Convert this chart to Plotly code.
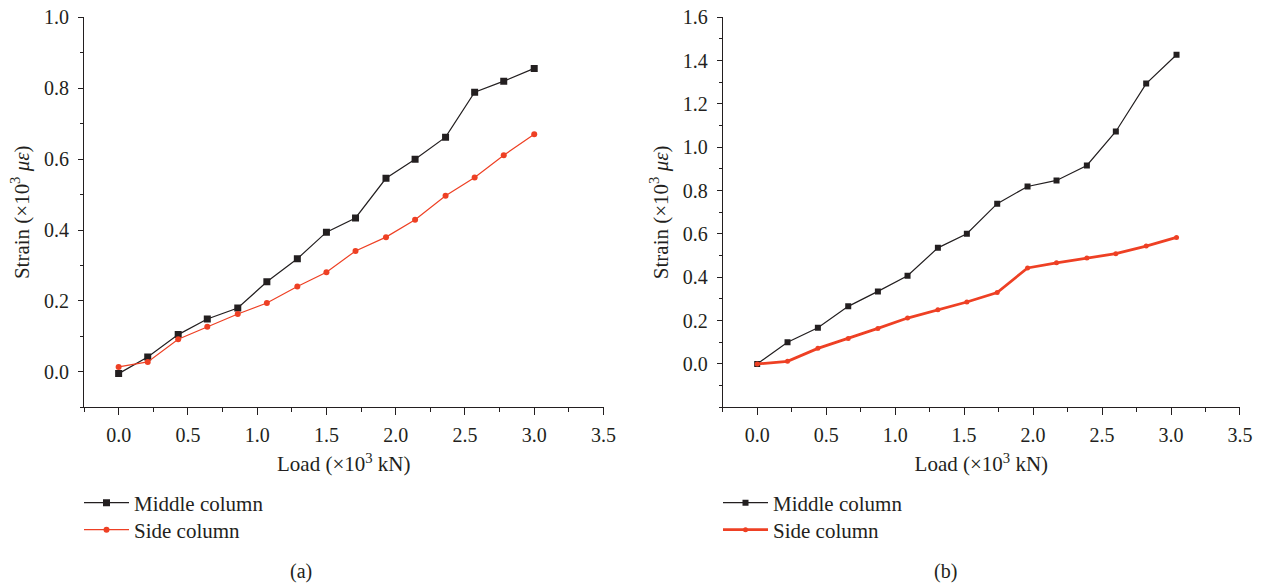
import plotly.graph_objects as go

# Load steps (x10^3 kN)
load_a = [0.0, 0.21, 0.43, 0.64, 0.86, 1.07, 1.29, 1.50, 1.71, 1.93, 2.14, 2.36, 2.57, 2.78, 3.00]
load_b = [0.0, 0.22, 0.44, 0.66, 0.875, 1.09, 1.31, 1.52, 1.74, 1.96, 2.17, 2.39, 2.60, 2.82, 3.04]

# Strain (x10^3 με), panel (a)
middle_a = [-0.005, 0.042, 0.105, 0.149, 0.180, 0.254, 0.319, 0.394, 0.434, 0.546, 0.600, 0.662, 0.789, 0.820, 0.856]
side_a = [0.014, 0.028, 0.092, 0.127, 0.163, 0.194, 0.241, 0.281, 0.341, 0.380, 0.429, 0.497, 0.548, 0.611, 0.670]

# Strain (x10^3 με), panel (b)
middle_b = [0.0, 0.100, 0.167, 0.266, 0.335, 0.407, 0.536, 0.601, 0.740, 0.819, 0.847, 0.916, 1.073, 1.294, 1.427]
side_b = [0.0, 0.012, 0.072, 0.118, 0.164, 0.212, 0.250, 0.286, 0.330, 0.443, 0.467, 0.489, 0.509, 0.544, 0.584]

x_ticks = [0.0, 0.5, 1.0, 1.5, 2.0, 2.5, 3.0, 3.5]
y_ticks_a = [0.0, 0.2, 0.4, 0.6, 0.8, 1.0]
y_ticks_b = [0.0, 0.2, 0.4, 0.6, 0.8, 1.0, 1.2, 1.4, 1.6]

INK = "#231f20"
RED = "#ee4024"
FONT = "Liberation Serif"
W, H = 1263, 585

fig = go.Figure()

fig.add_trace(go.Scatter(x=load_a, y=middle_a, name="Middle column", mode="lines+markers",
                         line=dict(color=INK, width=1.2), marker=dict(symbol="square", size=7, color=INK),
                         xaxis="x", yaxis="y", legend="legend"))
fig.add_trace(go.Scatter(x=load_a, y=side_a, name="Side column", mode="lines+markers",
                         line=dict(color=RED, width=1.2), marker=dict(symbol="circle", size=6, color=RED),
                         xaxis="x", yaxis="y", legend="legend3"))
fig.add_trace(go.Scatter(x=load_b, y=middle_b, name="Middle column", mode="lines+markers",
                         line=dict(color=INK, width=1.2), marker=dict(symbol="square", size=6, color=INK),
                         xaxis="x2", yaxis="y2", legend="legend2"))
fig.add_trace(go.Scatter(x=load_b, y=side_b, name="Side column", mode="lines+markers",
                         line=dict(color=RED, width=2.8), marker=dict(symbol="circle", size=5, color=RED),
                         xaxis="x2", yaxis="y2", legend="legend4"))

tickfont = dict(family=FONT, size=20, color=INK)
titlefont = dict(family=FONT, size=21, color=INK)


def x_axis(domain, anchor):
    return dict(domain=domain, anchor=anchor, range=[-0.25, 3.5001], automargin=False,
                tickvals=x_ticks, ticktext=[f"{v:.1f}" for v in x_ticks],
                ticks="outside", ticklen=7, tickwidth=1, tickcolor=INK,
                minor=dict(ticks="outside", ticklen=4, tickcolor=INK, dtick=0.25, tick0=0, showgrid=False),
                showline=True, linecolor=INK, linewidth=1, showgrid=False, zeroline=False,
                tickfont=tickfont, ticklabelstandoff=3,
                title=dict(text="Load (×10<sup>3</sup> kN)", font=titlefont, standoff=11))


def y_axis(domain, anchor, rng, ticks):
    return dict(domain=domain, anchor=anchor, range=rng, automargin=False,
                tickvals=ticks, ticktext=[f"{v:.1f}" for v in ticks],
                ticks="outside", ticklen=5, tickwidth=1, tickcolor=INK,
                minor=dict(ticks="outside", ticklen=3, tickcolor=INK, dtick=0.1, tick0=0, showgrid=False),
                showline=True, linecolor=INK, linewidth=1, showgrid=False, zeroline=False,
                tickfont=tickfont, ticklabelstandoff=5,
                title=dict(text="Strain (×10<sup>3</sup> <i>με</i>)", font=titlefont, standoff=8))


def legend_at(px, py):
    # one legend entry, left edge at px, vertically centred on py (pixels)
    return dict(x=px / W, y=1 - py / H, xanchor="left", yanchor="middle",
                font=dict(family=FONT, size=21, color=INK), bgcolor="rgba(0,0,0,0)",
                tracegroupgap=0, itemwidth=45)


ydom = [1 - 407.3 / H, 1 - 17.3 / H]
fig.update_layout(
    width=W, height=H,
    margin=dict(l=0, r=0, t=0, b=0, autoexpand=False),
    paper_bgcolor="white", plot_bgcolor="white",
    showlegend=True,
    xaxis=x_axis([84 / W, 603.5 / W], "y"),
    yaxis=y_axis(ydom, "x", [-0.1, 1.0001], y_ticks_a),
    xaxis2=x_axis([722.7 / W, 1240 / W], "y2"),
    yaxis2=y_axis(ydom, "x2", [-0.2, 1.6001], y_ticks_b),
    legend=legend_at(79, 503),
    legend3=legend_at(79, 530),
    legend2=legend_at(718, 503),
    legend4=legend_at(718, 530),
    annotations=[
        dict(text="(a)", x=301 / W, y=1 - 571 / H, xref="paper", yref="paper",
             xanchor="center", yanchor="middle",
             showarrow=False, font=dict(family=FONT, size=20, color=INK)),
        dict(text="(b)", x=945 / W, y=1 - 571 / H, xref="paper", yref="paper",
             xanchor="center", yanchor="middle",
             showarrow=False, font=dict(family=FONT, size=20, color=INK)),
    ],
)

fig.write_html("out.html")
